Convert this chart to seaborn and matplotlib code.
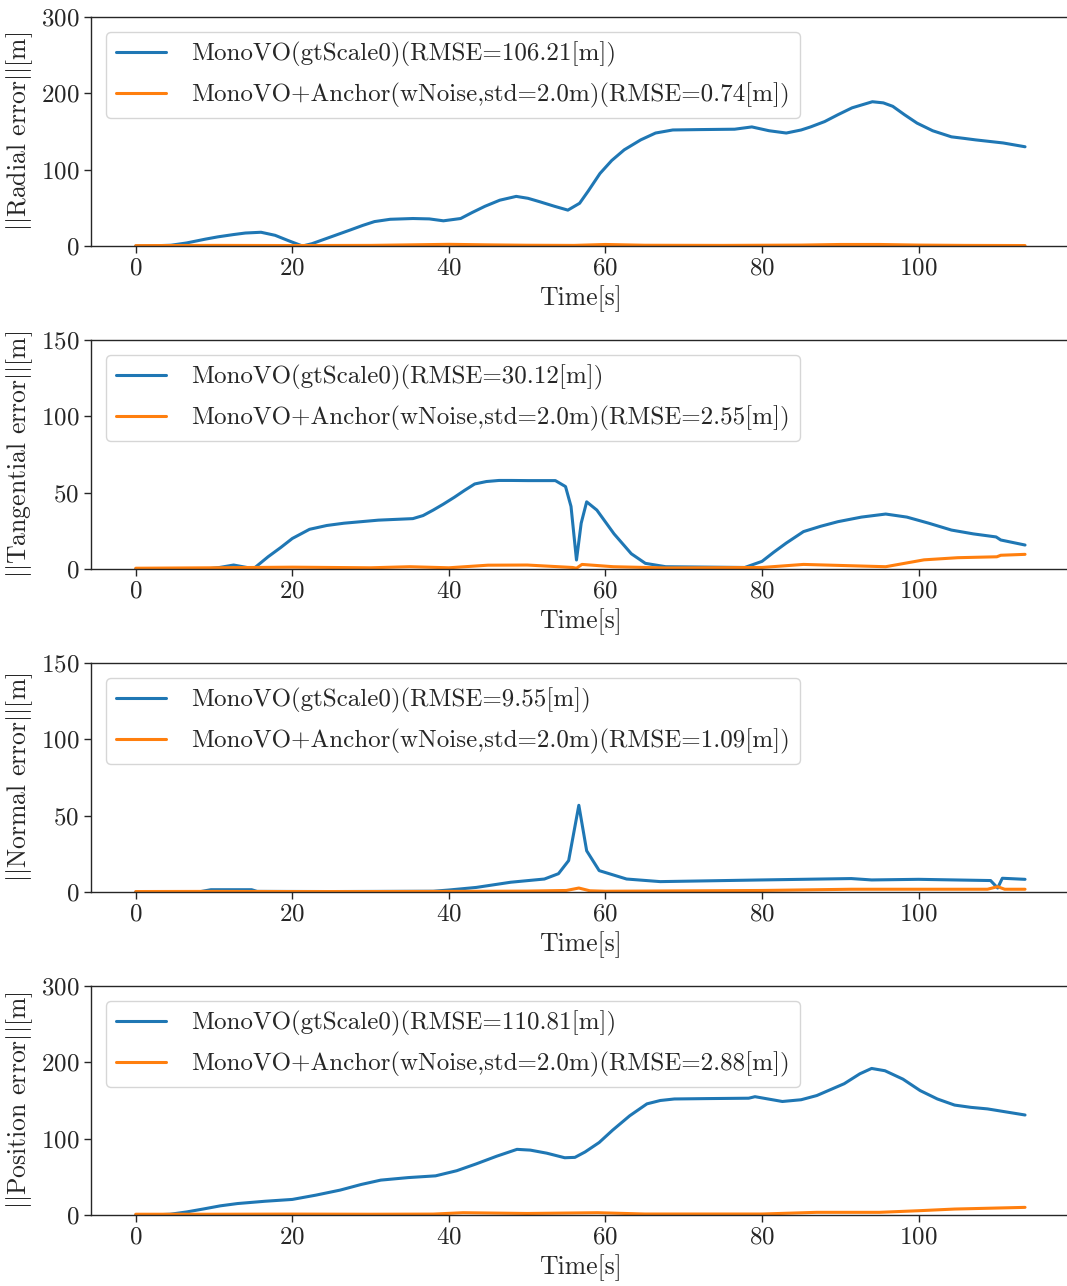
import matplotlib
matplotlib.use("Agg")
import matplotlib.pyplot as plt
import seaborn as sns
import pandas as pd

# ---------------- data ----------------
rad_blue_t = [0, 2, 4.5, 6.5, 8.9, 10.5, 12.5, 14, 16, 17.8, 19.5, 21.3, 22.5, 24.4, 27.4, 29,
              30.5, 32.5, 35.4, 37.5, 39.3, 41.5, 43, 44.6, 46.5, 48.6, 50.1, 51.6, 53.5, 55.2,
              56.7, 57.8, 59.3, 60.8, 62.4, 64.5, 66.4, 68.6, 72, 76.5, 78.7, 80.9, 83.1, 85,
              86.2, 88, 89.7, 91.5, 94.1, 95.5, 96.7, 98.2, 99.8, 101.8, 104.2, 105.8, 107.3,
              110.8, 113.6]
rad_blue_v = [0, 0.2, 1, 4, 9, 12, 15, 17, 18, 14, 7, 0, 3, 10, 21, 27,
              32, 35, 36, 35.5, 33, 36, 44, 52, 60, 65, 62.5, 58, 52, 47,
              56, 72, 95, 112, 126, 139, 148, 152, 152.5, 153, 156, 151, 148, 152,
              156, 163, 172, 181, 189, 187.5, 183, 172, 161, 151, 143, 141, 139,
              135, 130]
rad_orng_t = [0, 10, 20, 30, 40, 45, 50, 56, 60, 65, 75, 85, 90, 95, 100, 106, 113.6]
rad_orng_v = [0.5, 0.8, 0.6, 0.8, 2.2, 1.5, 1.0, 0.8, 2.0, 1.0, 0.8, 1.2, 2.0, 2.0, 1.2, 0.8, 0.6]

tan_blue_t = [0, 9, 10.7, 12.5, 14.2, 15.1, 16.9, 18.5, 20, 22.2, 24.4, 26.6, 28.8, 31, 33.2,
              35.4, 36.7, 38, 39.3, 40.7, 42, 43.3, 44.8, 46.4, 48,
              50.1, 53.6, 54.9, 55.6, 56.3, 56.9, 57.6, 58.9, 61.1, 63.3, 65.1, 67.7, 77.8, 80,
              81.5, 83.1, 85.3, 87.5, 89.7, 92.7, 95.8, 98.5, 101.3, 104.2, 107, 109.9, 110.5,
              113.6]
tan_blue_v = [0, 0, 1, 2.6, 1, 0.4, 8, 14, 20, 26, 28.5, 30, 31, 32, 32.5,
              33, 35, 38.6, 42.5, 47, 51.5, 55.7, 57.3, 58, 58,
              57.9, 57.9, 54, 41, 5.9, 30, 44, 38.6, 23, 10, 3.7, 1.5, 1, 5,
              11, 17, 24.5, 28, 31, 34, 36, 34, 30, 25.5, 23, 21, 19,
              15.7]
tan_orng_t = [0, 10, 20, 30, 35, 40, 45, 50, 55.8, 56.3, 57, 61, 67.7, 80, 85.3, 95.8, 100.7,
              105, 110, 110.5, 113.6]
tan_orng_v = [0.5, 0.8, 1.2, 0.8, 1.5, 0.8, 2.5, 2.6, 1, 0.5, 3, 1.5, 0.7, 1, 3, 1.5, 6,
              7.4, 8, 9, 9.6]

nor_blue_t = [0, 8, 9.6, 14.8, 15.5, 25, 38, 40, 43.5, 47.9, 52.2, 54, 55.3, 56.6, 57.6, 59.2,
              62.7, 67, 80, 91.4, 94, 100, 109.2, 110.1, 110.7, 113.6]
nor_blue_v = [0, 0, 1.5, 1.5, 0.4, 0.3, 0.5, 1.3, 3, 6.4, 8.5, 12, 20.6, 56.8, 27, 14,
              8.5, 6.8, 7.9, 8.8, 7.9, 8.3, 7.5, 2.6, 9, 8.3]
nor_orng_t = [0, 10, 20, 30, 40, 50, 55, 56.6, 58, 60, 80, 91.4, 108.8, 110.1, 111, 113.6]
nor_orng_v = [0.3, 0.4, 0.3, 0.3, 0.4, 0.6, 1.0, 2.6, 0.8, 0.5, 1, 1.8, 1.8, 3.5, 1.8, 1.8]

pos_blue_t = [0, 2, 4.4, 6.5, 8.7, 10.8, 13, 16.5, 20, 23, 26.1, 28.8, 31.3, 34.8, 38.3, 41,
              43.5, 46.1, 48.7, 50.4, 52.5, 54.8, 56.1, 57.4, 59.2, 60.9, 63.1, 65.3, 67,
              68.8, 73, 78.3, 79.1, 82.6, 85, 87, 90.5, 92.5, 94, 95.7, 98, 100.2, 102.4,
              104.6, 106.7, 108.8, 111.2, 113.6]
pos_blue_v = [0, 0, 1, 4, 8, 12, 15, 18, 20.4, 26, 32.6, 40, 45.7, 49, 51.3, 58,
              67, 77, 86, 85, 81, 75, 75.5, 82.6, 95, 111, 130, 145.6, 150,
              152, 152.5, 153, 155, 148.7, 151, 156.5, 172, 185, 192, 189, 178, 163, 152,
              144, 141, 139, 135, 131]
pos_orng_t = [0, 10, 20, 30, 38, 41.8, 50, 59, 65, 80, 87, 95, 100, 104.6, 113.6]
pos_orng_v = [1, 1, 1.2, 1, 1.2, 3, 2, 3, 1.3, 1.3, 3.5, 3.5, 5.6, 7.8, 10]

labels_blue = ["MonoVO(gtScale0)(RMSE=106.21[m])", "MonoVO(gtScale0)(RMSE=30.12[m])",
               "MonoVO(gtScale0)(RMSE=9.55[m])", "MonoVO(gtScale0)(RMSE=110.81[m])"]
labels_orng = ["MonoVO+Anchor(wNoise,std=2.0m)(RMSE=0.74[m])",
               "MonoVO+Anchor(wNoise,std=2.0m)(RMSE=2.55[m])",
               "MonoVO+Anchor(wNoise,std=2.0m)(RMSE=1.09[m])",
               "MonoVO+Anchor(wNoise,std=2.0m)(RMSE=2.88[m])"]
ylabels = [r"$||$Radial error$||$[m]", r"$||$Tangential error$||$[m]",
           r"$||$Normal error$||$[m]", r"$||$Position error$||$[m]"]
yticks = [[0, 100, 200, 300], [0, 50, 100, 150], [0, 50, 100, 150], [0, 100, 200, 300]]
xticks = [0, 20, 40, 60, 80, 100]

# ---------------- style ----------------
sns.set_style("ticks")
plt.rcParams.update({
    "font.family": "serif",
    "font.serif": ["cmr10"],
    "mathtext.fontset": "cm",
    "axes.unicode_minus": False,
    "axes.formatter.use_mathtext": True,
    "axes.linewidth": 1.0,
})

fig = plt.figure(figsize=(10.67, 12.86), dpi=100)
W, H = 1067.0, 1286.0
tops = [17, 340, 663, 986]
axh = 229
left_px, right_px = 91.3, 1069.5

series = [
    (rad_blue_t, rad_blue_v, rad_orng_t, rad_orng_v),
    (tan_blue_t, tan_blue_v, tan_orng_t, tan_orng_v),
    (nor_blue_t, nor_blue_v, nor_orng_t, nor_orng_v),
    (pos_blue_t, pos_blue_v, pos_orng_t, pos_orng_v),
]
blue, orange = "#1f77b4", "#ff7f0e"

for i, (bt, bv, ot, ov) in enumerate(series):
    ax = fig.add_axes([left_px / W, 1 - (tops[i] + axh) / H,
                       (right_px - left_px) / W, axh / H])
    df_b = pd.DataFrame({"t": bt, "v": bv})
    df_o = pd.DataFrame({"t": ot, "v": ov})
    sns.lineplot(data=df_b, x="t", y="v", ax=ax, color=blue, lw=2.2,
                 label=labels_blue[i], sort=False)
    sns.lineplot(data=df_o, x="t", y="v", ax=ax, color=orange, lw=2.2,
                 label=labels_orng[i], sort=False)
    ax.set_xlim(-5.68, 119.28)
    ax.set_ylim(yticks[i][0], yticks[i][-1])
    ax.set_yticks(yticks[i])
    ax.set_xticks(xticks)
    ax.tick_params(labelsize=18, length=5, width=1)
    ax.set_xlabel("Time[s]", fontsize=18.5)
    ax.set_ylabel(ylabels[i], fontsize=18.5, labelpad=4)
    ax.legend(loc="upper left", fontsize=18, frameon=True, fancybox=True,
              framealpha=0.8, edgecolor="#cccccc", borderaxespad=0.6,
              handletextpad=1.0, labelspacing=0.6)
    for s in ax.spines.values():
        s.set_visible(True)

fig.savefig("out.png", dpi=100)
